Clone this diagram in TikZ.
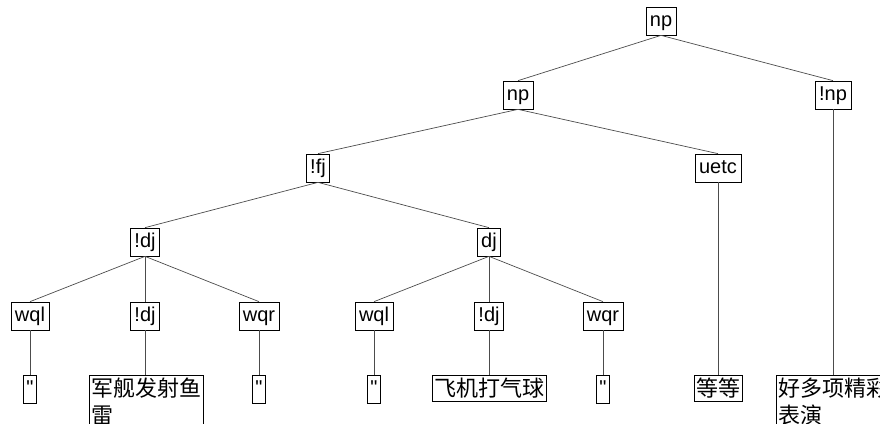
\documentclass[tikz,border=0pt]{standalone}
\usepackage{fontspec}
\setmainfont{Liberation Sans}[Ligatures=TeXOff]
\newfontfamily\cjk{Noto Sans CJK SC}
\usetikzlibrary{positioning}

\begin{document}
\begin{tikzpicture}[x=1pt, y=-1pt, on grid,
    cat/.style={draw, line width=0.7pt, font=\fontsize{20}{24}\selectfont, inner xsep=4pt, inner ysep=0pt,
      minimum height=28pt, text height=15pt, text depth=4.5pt},
    quote/.style={cat, inner xsep=3pt, anchor=north},
    word/.style={draw, line width=0.7pt, font=\cjk\fontsize{22}{27}\selectfont, inner xsep=2pt, inner ysep=3pt,
      align=left, anchor=north},
    edge/.style={draw=black!70, line width=0.7pt}]
  \useasboundingbox (0,0) rectangle (880,423);
  \clip (0,0) rectangle (880,423);

  \node[cat] (np) at (661,21) {np};
  \node (npL) [below left=74pt and 143pt of np, cat] {np};
  \node (notnp) [below right=74pt and 172pt of np, cat] {!np};
  \node (notfj) [below left=73pt and 200pt of npL, cat] {!fj};
  \node (uetc) [below right=73pt and 200pt of npL, cat] {uetc};
  \node (notdj) [below left=74pt and 173pt of notfj, cat] {!dj};
  \node (dj) [below right=74pt and 171pt of notfj, cat] {dj};

  \node (wqlA) [below left=74pt and 115pt of notdj, cat] {wql};
  \node (notdjA) [below=74pt of notdj, cat] {!dj};
  \node (wqrA) [below right=74pt and 114pt of notdj, cat] {wqr};
  \node (wqlB) [below left=74pt and 115pt of dj, cat] {wql};
  \node (notdjB) [below=74pt of dj, cat] {!dj};
  \node (wqrB) [below right=74pt and 114pt of dj, cat] {wqr};

  \node (qA) [below=59pt of wqlA, quote] {"};
  \node (lexA) [below=59pt of notdjA, word, anchor=north west, xshift=-56pt] {军舰发射鱼\\雷};
  \node (qB) [below=59pt of wqrA, quote] {"};
  \node (qC) [below=59pt of wqlB, quote] {"};
  \node (lexB) [below=59pt of notdjB, word] {飞机打气球};
  \node (qD) [below=59pt of wqrB, quote] {"};
  \node (lexC) [below=207pt of uetc, word] {等等};
  \node (lexD) [below=280pt of notnp, word, anchor=north west, xshift=-57pt] {好多项精彩\\表演};

  \path[edge]
    (np.south) edge (npL.north)
    (np.south) edge (notnp.north)
    (npL.south) edge (notfj.north)
    (npL.south) edge (uetc.north)
    (notfj.south) edge (notdj.north)
    (notfj.south) edge (dj.north)
    (notdj.south) edge (wqlA.north)
    (notdj.south) edge (notdjA.north)
    (notdj.south) edge (wqrA.north)
    (dj.south) edge (wqlB.north)
    (dj.south) edge (notdjB.north)
    (dj.south) edge (wqrB.north)
    (wqlA.south) edge (qA.north)
    (notdjA.south) edge (notdjA.south |- lexA.north)
    (wqrA.south) edge (qB.north)
    (wqlB.south) edge (qC.north)
    (notdjB.south) edge (lexB.north)
    (wqrB.south) edge (qD.north)
    (uetc.south) edge (lexC.north)
    (notnp.south) edge (notnp.south |- lexD.north)
  ;
\end{tikzpicture}
\end{document}
